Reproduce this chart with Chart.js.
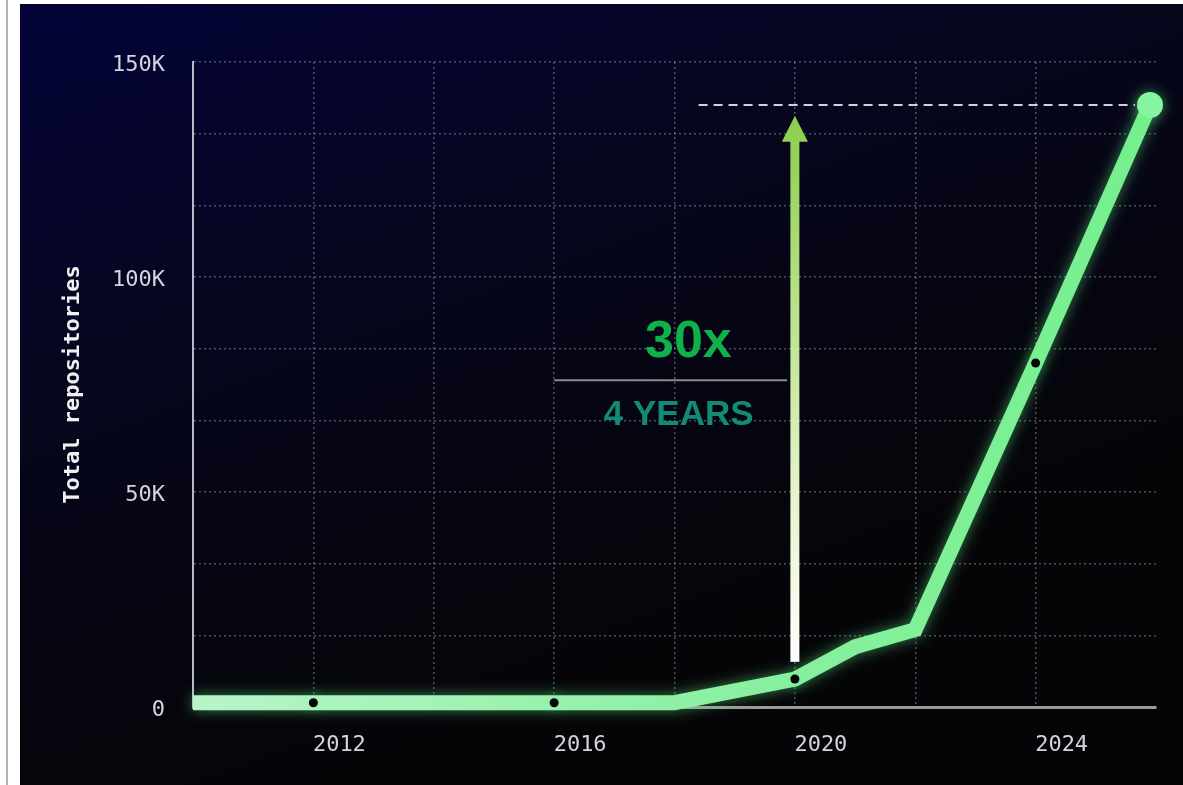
<!DOCTYPE html>
<html>
<head>
<meta charset="utf-8">
<script src="https://cdn.jsdelivr.net/npm/chart.js@4.4.1/dist/chart.umd.min.js"></script>
<style>
  html, body { margin: 0; padding: 0; background: #fff; }
  body { width: 1183px; height: 785px; position: relative; overflow: hidden; }
  .edge { position: absolute; left: 6px; top: 0; width: 2px; height: 785px; background: #b4b4b4; }
  #wrap { position: absolute; left: 20px; top: 4px; width: 1163px; height: 781px; }
</style>
</head>
<body>
<div class="edge"></div>
<div id="wrap"><canvas id="chart" width="1163" height="781"></canvas></div>
<script>
// series
const years = [2010, 2012, 2016, 2018, 2020, 2021, 2022, 2024, 2025.9];
const repos = [1000, 1000, 1000, 1000, 6500, 14000, 18000, 80000, 140000];
const markedYears = [2012, 2016, 2020, 2024]; // small black dots

// axes
const xGridYears = [2010, 2012, 2014, 2016, 2018, 2020, 2022, 2024];
const xTickLabels = ['', '2012', '', '2016', '', '2020', '', '2024'];
const yGridValues = [0, 16667, 33333, 50000, 66667, 83333, 100000, 116667, 133333, 150000];
const yTickLabels = ['0', '', '', '50K', '', '', '100K', '', '', '150K'];

// annotation, in data units
const arrowYear = 2020;
const arrowFrom = 10500;
const arrowTo = 137500;
const peakLine = { from: 2018.4, to: 2025.65, value: 140000 };
const ruleLine = { from: 2016, to: 2019.87, value: 76000 };
const growthLabel = { text: '30x', year: 2018.23, value: 84800 };
const spanLabel = { text: '4 YEARS', year: 2018.07, value: 67800 };

Chart.defaults.font.family = '"DejaVu Sans Mono", "Liberation Mono", monospace';

const background = {
  id: 'background',
  beforeDraw(chart) {
    const { ctx, width, height } = chart;
    const g = ctx.createLinearGradient(0, 0, width * 0.25, height);
    g.addColorStop(0, '#030338');
    g.addColorStop(0.45, '#06061e');
    g.addColorStop(0.75, '#050510');
    g.addColorStop(1, '#050508');
    ctx.save();
    ctx.fillStyle = g;
    ctx.fillRect(0, 0, width, height);
    ctx.restore();
  }
};

const glow = {
  id: 'glow',
  beforeDatasetDraw(chart) {
    chart.ctx.save();
    chart.ctx.shadowColor = 'rgba(100, 255, 140, 0.5)';
    chart.ctx.shadowBlur = 14;
  },
  afterDatasetDraw(chart) {
    chart.ctx.restore();
  }
};

const annotations = {
  id: 'annotations',
  afterDatasetsDraw(chart) {
    const { ctx, scales: { x, y } } = chart;
    ctx.save();

    // dashed line at the peak
    const py = y.getPixelForValue(peakLine.value);
    ctx.strokeStyle = '#d2d2d2';
    ctx.lineWidth = 2;
    ctx.setLineDash([9, 6]);
    ctx.beginPath();
    ctx.moveTo(x.getPixelForValue(peakLine.from), py);
    ctx.lineTo(x.getPixelForValue(peakLine.to), py);
    ctx.stroke();
    ctx.setLineDash([]);

    // rule between the two labels
    const ry = y.getPixelForValue(ruleLine.value);
    ctx.strokeStyle = '#8a8a8a';
    ctx.beginPath();
    ctx.moveTo(x.getPixelForValue(ruleLine.from), ry);
    ctx.lineTo(x.getPixelForValue(ruleLine.to), ry);
    ctx.stroke();

    // arrow
    const ax = x.getPixelForValue(arrowYear);
    const y0 = y.getPixelForValue(arrowFrom);
    const y1 = y.getPixelForValue(arrowTo);
    const head = 26;
    const grad = ctx.createLinearGradient(0, y0, 0, y1);
    grad.addColorStop(0, '#ffffff');
    grad.addColorStop(0.3, '#e6f4cc');
    grad.addColorStop(1, '#8bcf4a');
    ctx.fillStyle = grad;
    ctx.fillRect(ax - 4.5, y1 + head - 1, 9, y0 - y1 - head + 1);
    ctx.beginPath();
    ctx.moveTo(ax, y1);
    ctx.lineTo(ax + 13, y1 + head);
    ctx.lineTo(ax - 13, y1 + head);
    ctx.closePath();
    ctx.fill();

    // labels
    ctx.textAlign = 'center';
    ctx.textBaseline = 'middle';
    ctx.font = 'bold 52px "Liberation Sans", Arial, sans-serif';
    ctx.fillStyle = '#10b14c';
    ctx.fillText(growthLabel.text, x.getPixelForValue(growthLabel.year), y.getPixelForValue(growthLabel.value));
    ctx.font = 'bold 35px "Liberation Sans", Arial, sans-serif';
    ctx.fillStyle = '#128a77';
    ctx.fillText(spanLabel.text, x.getPixelForValue(spanLabel.year), y.getPixelForValue(spanLabel.value));

    ctx.restore();
  }
};

function lineColor(context) {
  const { chart } = context;
  const area = chart.chartArea;
  if (!area) return '#8ef0a5';
  const g = chart.ctx.createLinearGradient(area.left, 0, area.right, 0);
  g.addColorStop(0, '#b8f5c8');
  g.addColorStop(0.5, '#8ef0a5');
  g.addColorStop(1, '#74f08d');
  return g;
}

const last = years.length - 1;

new Chart(document.getElementById('chart'), {
  type: 'line',
  data: {
    datasets: [{
      data: years.map((yr, i) => ({ x: yr, y: repos[i] })),
      borderColor: lineColor,
      borderWidth: 15,
      borderCapStyle: 'butt',
      borderJoinStyle: 'miter',
      tension: 0,
      clip: false,
      pointRadius: years.map((yr, i) => i === last ? 13 : markedYears.includes(yr) ? 4.5 : 0),
      pointBackgroundColor: years.map((yr, i) => i === last ? '#86f5a0' : '#060606'),
      pointBorderWidth: 0,
      pointBorderColor: 'transparent'
    }]
  },
  options: {
    responsive: false,
    animation: false,
    events: [],
    layout: { padding: { top: 58, right: 27, bottom: 0, left: 0 } },
    plugins: {
      legend: { display: false },
      tooltip: { enabled: false }
    },
    scales: {
      x: {
        type: 'linear',
        min: 2010,
        max: 2026,
        afterBuildTicks: (axis) => { axis.ticks = xGridYears.map(v => ({ value: v })); },
        afterFit: (axis) => { axis.height = 78; },
        ticks: {
          autoSkip: false,
          maxRotation: 0,
          padding: 25,
          labelOffset: 26,
          color: '#d4d4dc',
          font: { size: 22 },
          callback: (v, i) => xTickLabels[i]
        },
        grid: { color: 'rgba(170, 170, 190, 0.45)', lineWidth: 1.5, drawTicks: false },
        border: { color: '#9a9a9a', width: 3, dash: [2, 3] }
      },
      y: {
        min: 0,
        max: 150000,
        afterBuildTicks: (axis) => { axis.ticks = yGridValues.map(v => ({ value: v })); },
        afterFit: (axis) => { axis.width = 173; },
        ticks: {
          autoSkip: false,
          padding: 28,
          labelOffset: 3,
          color: '#d4d4dc',
          font: { size: 22 },
          callback: (v, i) => yTickLabels[i]
        },
        grid: { color: 'rgba(170, 170, 190, 0.45)', lineWidth: 1.5, drawTicks: false },
        border: { color: '#b8b8c8', width: 2, dash: [2, 3] },
        title: {
          display: true,
          text: 'Total repositories',
          color: '#f0f0f0',
          font: { size: 22, weight: 'bold' },
          padding: { top: 40, bottom: 0 }
        }
      }
    }
  },
  plugins: [background, glow, annotations]
});
</script>
</body>
</html>
